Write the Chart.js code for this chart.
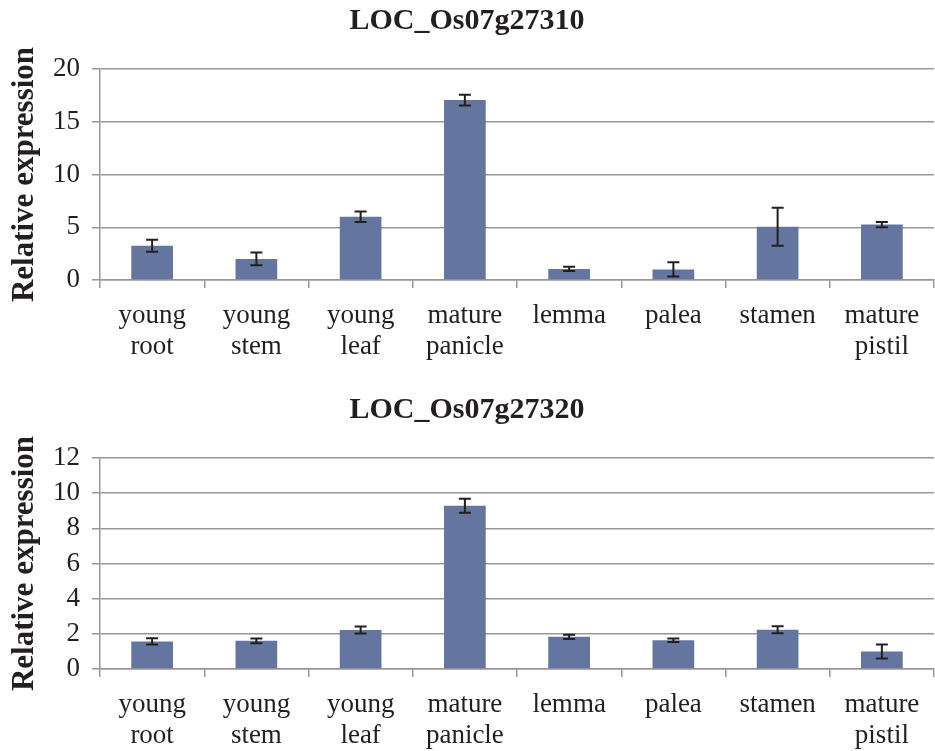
<!DOCTYPE html>
<html>
<head>
<meta charset="utf-8">
<script src="https://cdn.jsdelivr.net/npm/chart.js@4.4.1/dist/chart.umd.min.js"></script>
<style>
  html, body { margin: 0; padding: 0; background: #fff; overflow: hidden; }
  .box { position: relative; width: 935px; }
</style>
</head>
<body>
<div class="box" style="height:389px"><canvas id="chart1"></canvas></div>
<div class="box" style="height:362px"><canvas id="chart2"></canvas></div>
<script>
// tissues
const categories = [['young', 'root'], ['young', 'stem'], ['young', 'leaf'], ['mature', 'panicle'], 'lemma', 'palea', 'stamen', ['mature', 'pistil']];

// LOC_Os07g27310
const values1 = [3.25, 2.0, 6.0, 17.05, 1.05, 1.0, 5.05, 5.25];
const errors1 = [0.57, 0.6, 0.5, 0.5, 0.2, 0.68, 1.8, 0.25];

// LOC_Os07g27320
const values2 = [1.57, 1.6, 2.22, 9.28, 1.83, 1.63, 2.23, 1.0];
const errors2 = [0.18, 0.13, 0.2, 0.4, 0.12, 0.1, 0.2, 0.4];

const FONT = '"Liberation Serif", "Times New Roman", serif';
const TEXT = '#231f20';
const GRID = '#9e9696';
const BAR = '#6476a0';

// draw +/- error whiskers on top of bars
const errorBars = {
  id: 'errorBars',
  afterDatasetsDraw(chart) {
    const ctx = chart.ctx;
    const y = chart.scales.y;
    const ds = chart.data.datasets[0];
    const meta = chart.getDatasetMeta(0);
    ctx.save();
    ctx.strokeStyle = TEXT;
    ctx.lineWidth = 2;
    meta.data.forEach((bar, i) => {
      const top = y.getPixelForValue(ds.data[i] + ds.errors[i]);
      const bot = y.getPixelForValue(ds.data[i] - ds.errors[i]);
      ctx.beginPath();
      ctx.moveTo(bar.x, top); ctx.lineTo(bar.x, bot);
      ctx.moveTo(bar.x - 6, top); ctx.lineTo(bar.x + 6, top);
      ctx.moveTo(bar.x - 6, bot); ctx.lineTo(bar.x + 6, bot);
      ctx.stroke();
    });
    ctx.restore();
  }
};

function makeChart(id, title, values, errors, yMax, yStep, boxHeight) {
  new Chart(document.getElementById(id), {
    type: 'bar',
    data: {
      labels: categories,
      datasets: [{
        data: values,
        errors: errors,
        backgroundColor: BAR,
        borderWidth: 0,
        barPercentage: 0.4,
        categoryPercentage: 1.0
      }]
    },
    options: {
      responsive: true,
      maintainAspectRatio: false,
      animation: false,
      layout: { padding: { left: 0, right: 1, top: 0, bottom: 0 } },
      plugins: {
        legend: { display: false },
        tooltip: { enabled: false },
        title: {
          display: true,
          text: title,
          color: TEXT,
          font: { family: FONT, size: 30, weight: 'bold', lineHeight: 1.2 },
          padding: { top: 3, bottom: 30 }
        }
      },
      scales: {
        x: {
          grid: { offset: true, drawOnChartArea: false, drawTicks: true, tickLength: 8, color: GRID, lineWidth: 1.5 },
          border: { color: GRID, width: 1.5 },
          ticks: { color: TEXT, font: { family: FONT, size: 27, lineHeight: 1.15 }, padding: 12, maxRotation: 0, autoSkip: false },
          afterFit(scale) { scale.height = boxHeight - 280; }
        },
        y: {
          min: 0,
          max: yMax,
          ticks: { stepSize: yStep, autoSkip: false, color: TEXT, font: { family: FONT, size: 27 }, padding: 12 },
          grid: { color: GRID, lineWidth: 1.5, tickLength: 8 },
          border: { color: GRID, width: 1.5 },
          title: {
            display: true,
            text: 'Relative expression',
            color: TEXT,
            font: { family: FONT, size: 31, weight: 'bold', lineHeight: 1.2 },
            padding: { top: 6, bottom: 0 }
          },
          afterFit(scale) { scale.width = 100; }
        }
      }
    },
    plugins: [errorBars]
  });
}

makeChart('chart1', 'LOC_Os07g27310', values1, errors1, 20, 5, 389);
makeChart('chart2', 'LOC_Os07g27320', values2, errors2, 12, 2, 362);
</script>
</body>
</html>
